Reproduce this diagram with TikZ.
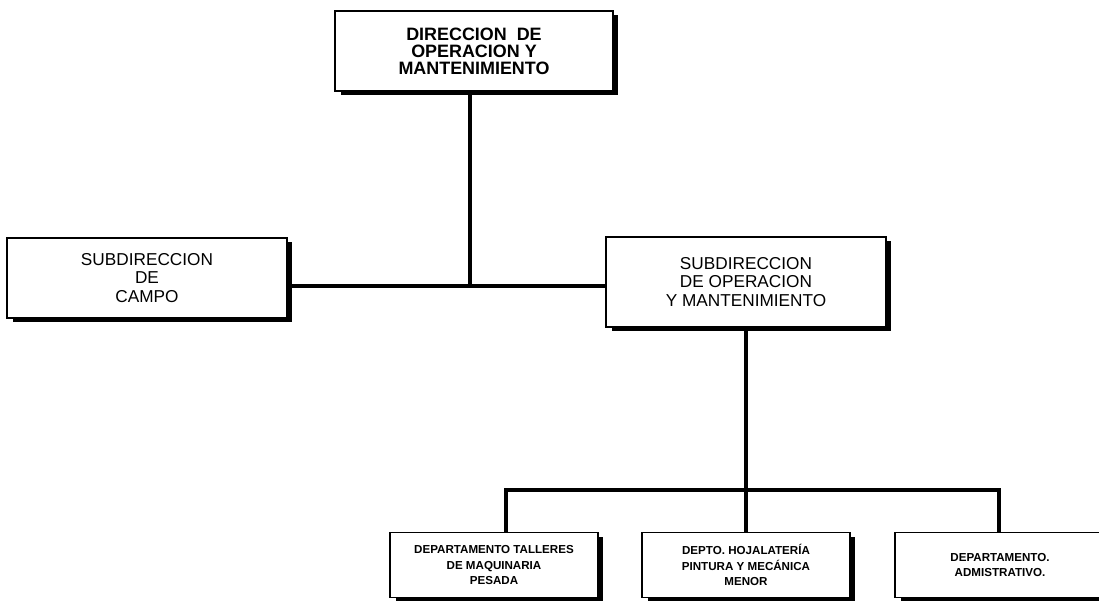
\documentclass[tikz,border=0pt]{standalone}
\usepackage{fontspec}
\setmainfont{Liberation Sans}
\usetikzlibrary{positioning,shadows}
\tikzstyle{unit} = [draw, line width=1pt, fill=white, align=center, inner sep=2pt, drop shadow={shadow xshift=0.11cm, shadow yshift=-0.08cm, opacity=1, fill=black}]
\tikzstyle{head} = [unit, minimum width=5.56cm, minimum height=1.6cm, font=\bfseries\fontsize{10.2}{9.6}\selectfont]
\tikzstyle{sub} = [unit, minimum width=5.6cm, font=\fontsize{9.8}{10.4}\selectfont]
\tikzstyle{dept} = [unit, minimum width=4.16cm, minimum height=1.3cm, font=\bfseries\fontsize{6.6}{8.6}\selectfont]
\tikzstyle{link} = [line width=2pt]

\begin{document}
\begin{tikzpicture}[x=0.02cm,y=-0.02cm]
  \useasboundingbox (0,0) rectangle (1099,600);

  \node[head] (dir) at (474,51) {DIRECCION\ \ DE\\OPERACION Y\\MANTENIMIENTO};

  \node[sub, minimum height=1.6cm] (campo) at (147,278) {SUBDIRECCION\\DE\\CAMPO};
  \node[sub, minimum height=1.8cm] (subop) at (746,282) {SUBDIRECCION\\DE OPERACION\\Y MANTENIMIENTO};

  \node[dept] (d1) at (494,565) {DEPARTAMENTO TALLERES\\DE MAQUINARIA\\PESADA};
  \node[dept] (d2) at (746,565) {DEPTO. HOJALATERÍA\\PINTURA Y MECÁNICA\\MENOR};
  \node[dept, minimum width=4.2cm, text width=4cm, align=center] (d3) at (1000,565) {DEPARTAMENTO.\\ADMISTRATIVO.};

  % lineas
  \coordinate (j) at (470,286);
  \coordinate (bl) at (506,490);
  \coordinate (br) at (999,490);

  \draw[link] (dir.south -| j) -- (j);
  \draw[link] (campo.east |- j) -- (subop.west |- j);

  \draw[link] (subop.south) -- (d2.north);
  \draw[link] (d1.north -| bl) -- (bl) -- (br) -- (d3.north -| br);

\end{tikzpicture}
\end{document}
